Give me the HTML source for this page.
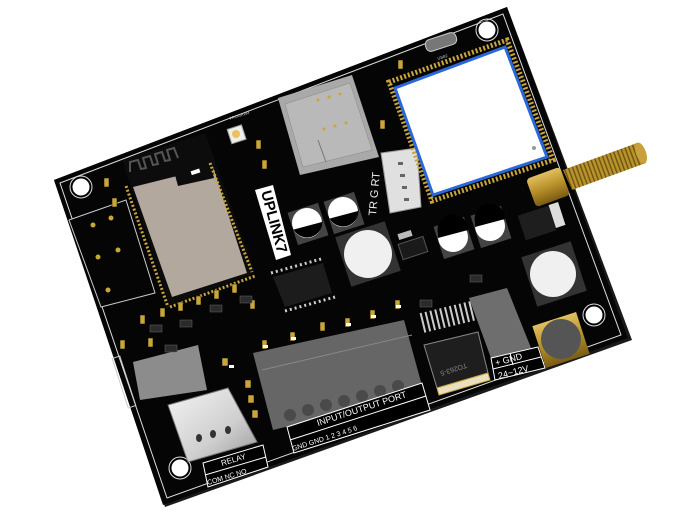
<!DOCTYPE html>
<html><head><meta charset="utf-8"><style>
html,body{margin:0;padding:0;background:#fff;width:700px;height:520px;overflow:hidden}
svg{display:block}
text{font-family:"Liberation Sans",sans-serif}
</style></head><body>
<svg width="700" height="520" viewBox="0 0 700 520" xmlns="http://www.w3.org/2000/svg">
<defs>
<linearGradient id="gold" x1="0" y1="0" x2="0" y2="1"><stop offset="0" stop-color="#e0c060"/><stop offset=".5" stop-color="#b8902a"/><stop offset="1" stop-color="#7a5c14"/></linearGradient>
<linearGradient id="silver" x1="0" y1="0" x2="1" y2="1"><stop offset="0" stop-color="#f4f4f4"/><stop offset=".6" stop-color="#cfcfcf"/><stop offset="1" stop-color="#9a9a9a"/></linearGradient>
<pattern id="thread" width="4" height="4" patternUnits="userSpaceOnUse" patternTransform="rotate(-20)"><rect width="4" height="4" fill="#b8922c"/><rect width="1.4" height="4" fill="#6e5410"/></pattern>
</defs>
<polygon points="54,180 507,7 632,340 165,507" fill="#1a1a1a"/>
<polygon points="54,180 507,7 628,338 163,505" fill="#050505"/>
<polygon points="60,183 503,14 621,335 167,498" fill="none" stroke="#ddd" stroke-width="1"/>
<g fill="#fff" stroke="#000" stroke-width="1">
<circle cx="81" cy="187" r="9"/><circle cx="487" cy="30" r="9"/><circle cx="594" cy="315" r="9"/><circle cx="180" cy="468" r="9"/>
</g>
<g fill="none" stroke="#ddd" stroke-width="1"><circle cx="81" cy="187" r="11"/><circle cx="487" cy="30" r="11"/><circle cx="594" cy="315" r="11"/><circle cx="180" cy="468" r="11"/></g>
<polygon points="69,220 126,200 155,293 101,307" fill="#050505" stroke="#ccc" stroke-width="1"/>
<g fill="#c9a53a"><circle cx="93" cy="225" r="2.5"/><circle cx="111" cy="218" r="2.5"/><circle cx="98" cy="257" r="2.5"/><circle cx="118" cy="250" r="2.5"/><circle cx="108" cy="290" r="2.5"/></g>
<polygon points="122,160 205,133 255,273 170,305" fill="#0c0c0c"/>
<polygon points="133,187 213,167 247,273 172,297" fill="#b3a89e"/>
<polygon points="175,175 213,167 214,178 178,186" fill="#0c0c0c"/>
<rect x="191" y="170" width="9" height="4" fill="#fff" transform="rotate(-18 195 172)"/>
<path d="M130,172 l0,-10 l8,-2 l3,9 l5,-1 l-3,-10 l7,-2 l3,9 l5,-1 l-3,-10 l7,-2 l3,9 l5,-1 l-3,-10 l7,-2 l4,10" fill="none" stroke="#555" stroke-width="2"/>
<line x1="126" y1="186" x2="168" y2="307" stroke="#c9a53a" stroke-width="3" stroke-dasharray="2 2"/>
<line x1="210" y1="163" x2="252" y2="272" stroke="#c9a53a" stroke-width="3" stroke-dasharray="2 2"/>
<line x1="170" y1="307" x2="255" y2="276" stroke="#c9a53a" stroke-width="3" stroke-dasharray="2 2"/>
<rect x="229" y="127" width="15" height="15" fill="#eee" stroke="#999" transform="rotate(-18 236 134)"/>
<circle cx="236" cy="134" r="4" fill="#e9c35a"/>
<text x="230" y="120" font-size="4" fill="#ccc" transform="rotate(-18 230 120)">PROGRAM</text>
<polygon points="278,98 352,75 379,157 300,175" fill="#a9a9a9"/>
<polygon points="285,104 350,83 372,150 303,167" fill="#b9b9b9" stroke="#888" stroke-width="0.5"/>
<g fill="#c9a53a"><circle cx="318" cy="100" r="1.5"/><circle cx="329" cy="97" r="1.5"/><circle cx="340" cy="94" r="1.5"/><circle cx="324" cy="129" r="1.5"/><circle cx="335" cy="126" r="1.5"/><circle cx="346" cy="123" r="1.5"/></g>
<line x1="318" y1="140" x2="326" y2="162" stroke="#777" stroke-width="1"/>
<polygon points="255,190 273,185 291,255 276,260" fill="#fff"/>
<text x="0" y="0" font-size="15" font-weight="bold" fill="#000" transform="translate(261,192) rotate(75)">UPLINK7</text>
<g>
<rect x="292" y="207" width="32" height="34" fill="#444" transform="rotate(-18 308 224)"/>
<circle cx="307" cy="223" r="15" fill="#fff"/><path d="M292,226 A15,15 0 0 0 322,218 L322,222 292,230Z" fill="#000"/>
<rect x="328" y="196" width="32" height="34" fill="#444" transform="rotate(-18 344 213)"/>
<circle cx="343" cy="212" r="15" fill="#fff"/><path d="M328,215 A15,15 0 0 0 358,207 L358,211 328,219Z" fill="#000"/>
<rect x="438" y="221" width="32" height="34" fill="#444" transform="rotate(-18 454 238)"/>
<circle cx="453" cy="237" r="15" fill="#fff"/><path d="M438,234 A15,15 0 0 1 468,226 L468,230 438,238Z" fill="#000"/>
<rect x="475" y="210" width="32" height="34" fill="#444" transform="rotate(-18 491 227)"/>
<circle cx="490" cy="226" r="15" fill="#fff"/><path d="M475,223 A15,15 0 0 1 505,215 L505,219 475,227Z" fill="#000"/>
</g>
<rect x="342" y="228" width="52" height="52" fill="#333" transform="rotate(-18 368 254)"/>
<circle cx="368" cy="254" r="24" fill="#f0f0f0"/>
<rect x="528" y="248" width="52" height="52" fill="#333" transform="rotate(-18 554 274)"/>
<circle cx="553" cy="274" r="23" fill="#f0f0f0"/>
<rect x="538" y="318" width="46" height="44" fill="url(#gold)" transform="rotate(-18 561 340)"/>
<circle cx="561" cy="339" r="20" fill="#555"/>
<rect x="400" y="240" width="26" height="16" fill="#1a1a1a" stroke="#555" transform="rotate(-18 413 248)"/>
<rect x="398" y="232" width="14" height="6" fill="#bbb" transform="rotate(-18 405 235)"/>
<polygon points="273,277 323,263 332,293 285,307" fill="#1c1c1c"/>
<line x1="271" y1="273" x2="321" y2="259" stroke="#ccc" stroke-width="3" stroke-dasharray="2 3"/>
<line x1="285" y1="311" x2="335" y2="297" stroke="#ccc" stroke-width="3" stroke-dasharray="2 3"/>
<polygon points="381,153 417,148 421,207 390,213" fill="#e0e0e0" stroke="#999"/>
<g fill="#666"><rect x="398" y="162" width="5" height="3"/><rect x="400" y="174" width="5" height="3"/><rect x="402" y="186" width="5" height="3"/><rect x="404" y="198" width="5" height="3"/></g>
<text font-size="11" fill="#eee" transform="translate(376,216) rotate(-85)">TR  G  RT</text>
<polygon points="389,82 507,40 553,160 432,201" fill="none" stroke="#c9a53a" stroke-width="5" stroke-dasharray="2 2"/>
<polygon points="395,88 505,47 547,157 433,195" fill="#fff" stroke="#2a67d8" stroke-width="3"/>
<circle cx="534" cy="148" r="2" fill="#999"/>
<rect x="425" y="36" width="32" height="12" rx="5" fill="#777" stroke="#ccc" transform="rotate(-18 441 42)"/>
<text x="438" y="60" font-size="4" fill="#ccc" transform="rotate(-18 438 60)">USB2</text>
<polygon points="563,170 637,143 646,163 572,190" fill="url(#thread)"/>
<ellipse cx="641" cy="153" rx="5" ry="11" fill="#c8a13a" transform="rotate(-20 641 153)"/>
<rect x="530" y="172" width="36" height="30" rx="4" fill="url(#gold)" transform="rotate(-20 548 187)"/>
<rect x="521" y="210" width="32" height="26" fill="#1e1e1e" transform="rotate(-18 537 223)"/>
<rect x="552" y="203" width="10" height="24" fill="#ddd" transform="rotate(-18 557 215)"/>
<polygon points="424,345 478,332 488,373 437,388" fill="#1e1e1e" stroke="#888"/>
<polygon points="437,388 488,373 490,380 439,395" fill="#e8e0c0" stroke="#c9a53a"/>
<line x1="418" y1="305" x2="472" y2="292" stroke="#ccc" stroke-width="20" stroke-dasharray="2 3" transform="translate(4,18)"/>
<text font-size="7" fill="#888" transform="translate(466,363) rotate(162)">TO263-5</text>
<polygon points="469,298 507,288 531,348 491,358" fill="#6e6e6e"/>
<polygon points="491,358 538,347 545,368 495,380" fill="#000" stroke="#fff"/>
<line x1="493" y1="369" x2="541" y2="357" stroke="#fff"/>
<line x1="510" y1="353" x2="513" y2="365" stroke="#fff"/>
<text font-size="9" fill="#fff" transform="translate(496,366) rotate(-15)">+   GND</text>
<text font-size="9" fill="#fff" transform="translate(499,379) rotate(-15)">24~12V</text>
<polygon points="253,353 404,320 424,393 273,430" fill="#666"/>
<g fill="#4a4a4a"><circle cx="290" cy="415" r="6"/><circle cx="308" cy="410" r="6"/><circle cx="326" cy="405" r="6"/><circle cx="344" cy="401" r="6"/><circle cx="362" cy="396" r="6"/><circle cx="380" cy="391" r="6"/><circle cx="398" cy="386" r="6"/></g>
<g stroke="#888" stroke-width="1"><line x1="262" y1="370" x2="412" y2="335"/></g>
<polygon points="287,427 422,383 430,410 294,453" fill="#000" stroke="#fff"/>
<line x1="290" y1="440" x2="426" y2="396" stroke="#fff"/>
<text font-size="9" fill="#fff" transform="translate(318,426) rotate(-18)">INPUT/OUTPUT  PORT</text>
<text font-size="7" fill="#fff" transform="translate(293,451) rotate(-18)">GND GND  1   2   3   4   5   6</text>
<polygon points="133,362 198,345 207,390 140,400" fill="#8c8c8c"/>
<polygon points="168,405 228,388 257,442 188,462" fill="url(#silver)" stroke="#777"/>
<g fill="#333"><ellipse cx="199" cy="438" rx="3" ry="4"/><ellipse cx="213" cy="434" rx="3" ry="4"/><ellipse cx="228" cy="430" rx="3" ry="4"/></g>
<polygon points="203,463 263,445 268,467 208,487" fill="#000" stroke="#fff"/>
<line x1="205" y1="475" x2="266" y2="457" stroke="#fff"/>
<text font-size="8" fill="#fff" transform="translate(222,466) rotate(-17)">RELAY</text>
<text font-size="7" fill="#fff" transform="translate(208,485) rotate(-17)">COM NC NO</text>
<rect x="120" y="356" width="8" height="52" fill="none" stroke="#ccc" transform="rotate(-18 124 382)"/>
<g fill="#c9a53a" stroke="#000" stroke-width="0.5">
<rect x="140" y="315" width="5" height="9"/><rect x="160" y="308" width="5" height="9"/><rect x="178" y="302" width="5" height="9"/><rect x="196" y="296" width="5" height="9"/><rect x="214" y="290" width="5" height="9"/><rect x="232" y="284" width="5" height="9"/><rect x="250" y="300" width="5" height="9"/>
<rect x="262" y="340" width="5" height="9"/><rect x="290" y="332" width="5" height="9"/><rect x="320" y="322" width="5" height="9"/><rect x="345" y="318" width="5" height="9"/><rect x="370" y="310" width="5" height="9"/><rect x="395" y="300" width="5" height="9"/>
<rect x="112" y="198" width="5" height="9"/><rect x="104" y="178" width="5" height="9"/><rect x="148" y="338" width="5" height="9"/><rect x="120" y="340" width="5" height="9"/>
<rect x="256" y="140" width="5" height="9"/><rect x="262" y="160" width="5" height="9"/><rect x="380" y="120" width="5" height="9"/><rect x="398" y="60" width="5" height="9"/>
<rect x="245" y="380" width="6" height="8"/><rect x="248" y="395" width="6" height="8"/><rect x="252" y="410" width="6" height="8"/><rect x="222" y="358" width="6" height="8"/>
</g>
<g fill="#fff"><rect x="229" y="365" width="5" height="3"/><rect x="263" y="345" width="5" height="3"/><rect x="291" y="337" width="5" height="3"/><rect x="346" y="323" width="5" height="3"/><rect x="371" y="315" width="5" height="3"/><rect x="396" y="305" width="5" height="3"/></g>
<g fill="#2a2a2a" stroke="#666" stroke-width="0.5">
<rect x="210" y="305" width="12" height="7"/><rect x="240" y="296" width="12" height="7"/><rect x="150" y="325" width="12" height="7"/><rect x="180" y="320" width="12" height="7"/><rect x="165" y="345" width="12" height="7"/><rect x="420" y="300" width="12" height="7"/><rect x="470" y="275" width="12" height="7"/>
</g>
</svg>
</body></html>
